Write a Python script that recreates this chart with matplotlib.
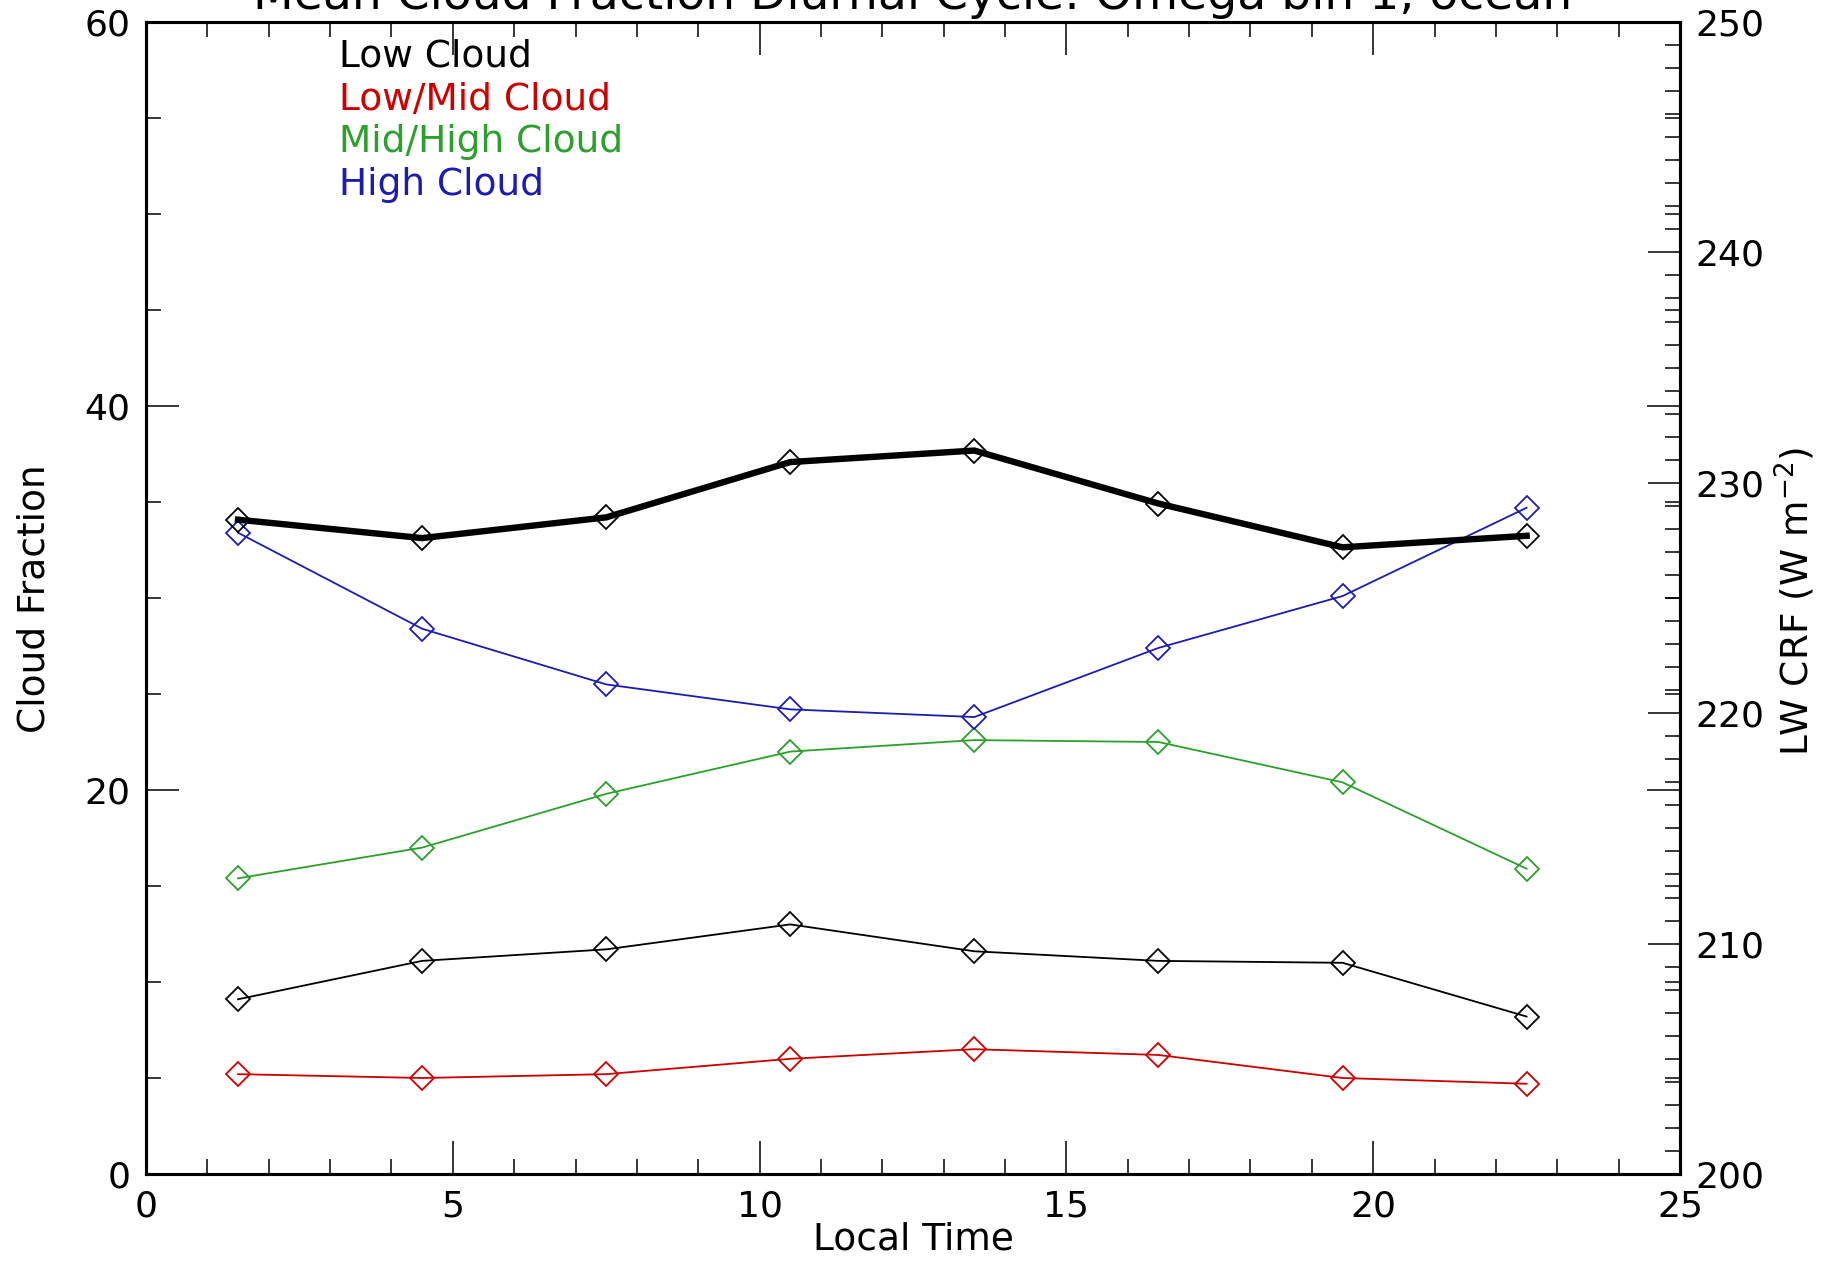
import numpy as np
import matplotlib.pyplot as plt
from matplotlib.ticker import MultipleLocator

# diurnal cycle, 3-hourly bins
local_time = [1.5, 4.5, 7.5, 10.5, 13.5, 16.5, 19.5, 22.5]
low_cloud = [9.1, 11.1, 11.7, 13.0, 11.6, 11.1, 11.0, 8.2]
low_mid_cloud = [5.2, 5.0, 5.2, 6.0, 6.5, 6.2, 5.0, 4.7]
mid_high_cloud = [15.4, 17.0, 19.8, 22.0, 22.6, 22.5, 20.4, 15.9]
high_cloud = [33.4, 28.4, 25.5, 24.2, 23.8, 27.4, 30.1, 34.7]
lw_crf = [228.4, 227.6, 228.5, 230.9, 231.4, 229.1, 227.2, 227.7]

series_names = ['Low Cloud', 'Low/Mid Cloud', 'Mid/High Cloud', 'High Cloud']
series_colors = ['black', '#cc0000', '#2ca02c', '#1c1cb0']

W, H = 1829, 1263
fs = 27

fig = plt.figure(figsize=(W / 100, H / 100), dpi=100)
ax = fig.add_axes([146 / W, (H - 1174) / H, 1534 / W, 1152 / H])
ax2 = ax.twinx()

for vals, col in zip([low_cloud, low_mid_cloud, mid_high_cloud, high_cloud], series_colors):
    ax.plot(local_time, vals, color=col, lw=1.3, marker='D', ms=12,
            mfc='none', mec=col, mew=1.3)

ax2.plot(local_time, lw_crf, color='black', lw=4.6, marker='D', ms=12,
         mfc='none', mec='black', mew=1.3)

ax.set_xlim(0, 25)
ax.set_ylim(0, 60)
ax2.set_ylim(200, 250)

ax.xaxis.set_major_locator(MultipleLocator(5))
ax.xaxis.set_minor_locator(MultipleLocator(1))
ax.yaxis.set_major_locator(MultipleLocator(20))
ax.yaxis.set_minor_locator(MultipleLocator(5))
ax2.yaxis.set_major_locator(MultipleLocator(10))
ax2.yaxis.set_minor_locator(MultipleLocator(1))

ax.tick_params(which='both', direction='in', top=True, right=True,
               labelright=False, labeltop=False, width=1.1,
               labelsize=26, pad=11)
ax.tick_params(which='major', length=24)
ax.tick_params(which='minor', length=11)
ax2.tick_params(which='both', direction='in', right=True, left=False,
                width=1.1, labelsize=26, pad=11)
ax2.tick_params(which='major', length=23)
ax2.tick_params(which='minor', length=11)

for a in (ax, ax2):
    for sp in a.spines.values():
        sp.set_linewidth(2.2)

# legend as coloured text
for i, (name, col) in enumerate(zip(series_names, series_colors)):
    ax.text(0.126, 0.970 - i * 0.0373, name, color=col, fontsize=fs,
            transform=ax.transAxes, ha='left', va='center')

fig.text(913 / W, 1 - 9 / H, 'Mean Cloud Fraction Diurnal Cycle: Omega bin 1, ocean',
         ha='center', va='baseline', fontsize=34)
fig.text(35 / W, 1 - 599 / H, 'Cloud Fraction', rotation=90,
         ha='center', va='center', fontsize=fs)
fig.text(1795 / W, 1 - 601 / H, 'LW CRF (W m$^{-2}$)', rotation=90,
         ha='center', va='center', fontsize=fs)
fig.text(913 / W, 1 - 1240 / H, 'Local Time', ha='center', va='center',
         fontsize=fs)

fig.savefig('out.png', dpi=100)
